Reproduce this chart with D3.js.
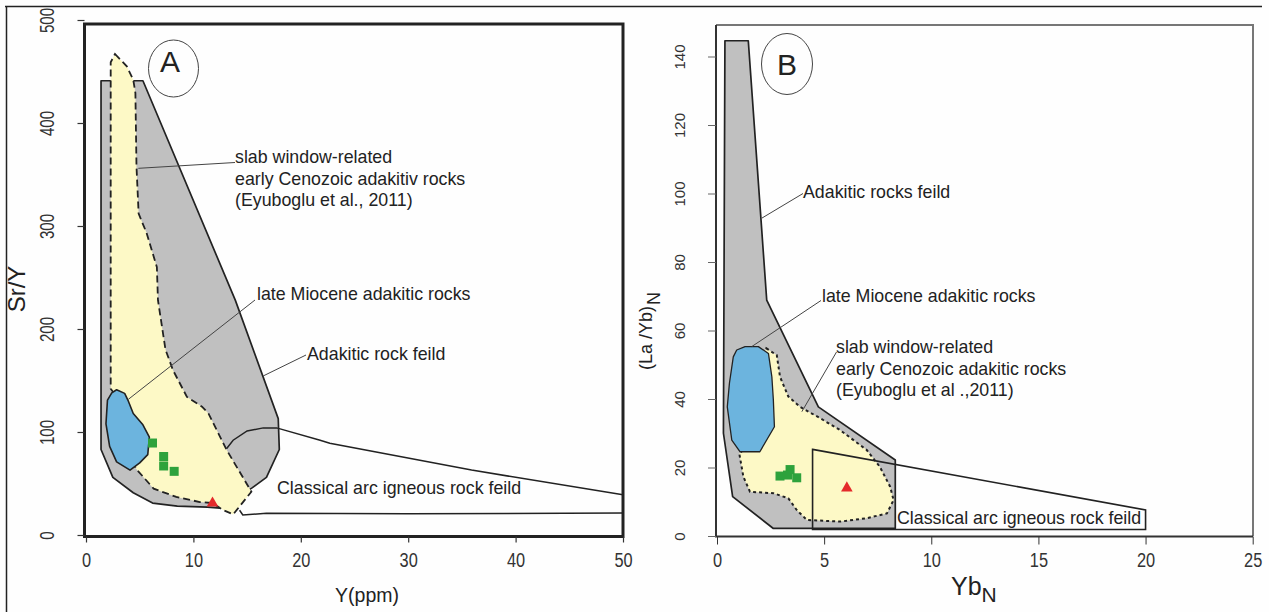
<!DOCTYPE html>
<html>
<head>
<meta charset="utf-8">
<script src="https://cdn.jsdelivr.net/npm/d3@7"></script>
<style>
  body { margin: 0; background: #ffffff; }
  svg { display: block; }
  text { font-family: "Liberation Sans", Arial, Helvetica, sans-serif; }
</style>
</head>
<body>
<svg id="fig" width="1269" height="612"></svg>
<script>
// ---------- Panel A: Sr/Y vs Y (ppm) ----------
const aXTicks = [0, 10, 20, 30, 40, 50];
const aYTicks = [0, 100, 200, 300, 400, 500];

// Adakitic rock field (grey)
const aAdakiticField = [
  [1.4, 441], [5.3, 441], [13.9, 228], [17.9, 113], [18.0, 83], [16.8, 56],
  [15.5, 46], [12.5, 26], [11.3, 27], [8.5, 28], [6.2, 31], [4.4, 41],
  [2.5, 56], [1.4, 83]
];
// Classical arc igneous rock field (outline only)
const aArcUpper = [
  [13.1, 84], [13.7, 92], [15.0, 101], [16.5, 104], [17.75, 104],
  [21.8, 92], [22.7, 89], [35.9, 63], [50, 39]
];
const aArcLower = [
  [14.3, 24], [14.6, 19.4], [16.8, 21], [30, 20.6], [50, 21.3]
];
// Slab window-related early Cenozoic adakitic rocks (dashed, yellow)
const aSlabField = [
  [2.7, 467], [3.8, 455], [4.4, 442], [4.6, 429], [4.7, 358], [4.9, 312],
  [5.65, 293], [6.6, 260], [6.7, 228], [7.4, 180], [8.1, 160], [9.4, 134],
  [10.8, 124.6], [11.4, 118], [13.1, 82.5], [15.4, 42], [13.7, 20],
  [12.8, 24], [11.8, 31], [10.6, 32], [8.4, 37], [6.3, 45], [4.6, 65],
  [4.2, 95], [3.0, 132], [2.3, 142], [2.3, 459]
];
// Late Miocene adakitic rocks (blue)
const aMioceneField = [
  [2.85, 141], [3.6, 137.5], [3.9, 131], [4.4, 118], [5.3, 107], [5.9, 95],
  [5.75, 78], [5.0, 70], [4.1, 63], [2.85, 71], [2.2, 86], [1.86, 108],
  [2.0, 131], [2.4, 138]
];
const aSamples = [[6.19, 89.3], [7.23, 76.2], [7.23, 67], [8.21, 61.8]];
const aTriangles = [[11.78, 31]];

// ---------- Panel B: (La/Yb)N vs YbN ----------
const bXTicks = [0, 5, 10, 15, 20, 25];
const bYTicks = [0, 20, 40, 60, 80, 100, 120, 140];

const bAdakiticField = [
  [0.37, 144.6], [1.46, 144.6], [2.32, 68.9], [4.73, 37.7], [8.32, 22.2],
  [8.32, 2.2], [2.63, 2.2], [0.73, 11.5], [0.3, 30]
];
const bSlabField = [
  [2.3, 54.8], [2.79, 52.8], [2.94, 46.5], [3.33, 40.7], [3.88, 37.7],
  [4.81, 34.4], [5.75, 30.9], [6.99, 25.1], [7.6, 20.2], [8.08, 14.4],
  [8.24, 10.5], [7.93, 6.6], [7.0, 5.2], [5.75, 4.2], [4.19, 4.7],
  [3.72, 7.6], [3.33, 11], [2.63, 12.5], [1.54, 12.9], [1.23, 17.3],
  [1.04, 24.1], [1.6, 27], [2.2, 31], [2.3, 45], [2.2, 53.5]
];
const bMioceneField = [
  [0.92, 54.3], [1.31, 55.3], [1.93, 55.3], [2.4, 53.3], [2.56, 46.5],
  [2.63, 39.7], [2.68, 31.9], [2.0, 24.6], [1.07, 24.6], [0.69, 28],
  [0.48, 37.7], [0.58, 44.6], [0.76, 52.3]
];
const bArcField = [[4.46, 25.3], [20, 7.6], [20, 1.9], [4.46, 1.9]];
const bSamples = [[2.94, 17.5], [3.41, 19.4], [3.29, 17.8], [3.72, 17.0]];
const bTriangles = [[6.06, 14.0]];

// label texts
const aSlabLabel = ["slab window-related", "early Cenozoic adakitiv rocks", "(Eyuboglu et al., 2011)"];
const bSlabLabel = ["slab window-related", "early Cenozoic adakitic rocks", "(Eyuboglu et al .,2011)"];
const mioceneLabel = "late Miocene adakitic rocks";
const arcLabel = "Classical arc igneous rock feild";

// ---------- styling ----------
const GREY = "#c0c0c0";
const YELLOW = "#fdf9c6";
const BLUE = "#6cb4de";
const GREEN = "#2ea23c";
const RED = "#e42a2a";
const INK = "#222";
const LABEL_FS = 17.8;

const svg = d3.select("#fig");
svg.append("rect").attr("width", 1269).attr("height", 612).attr("fill", "#fefefe");
// outer border of the figure
svg.append("path")
  .attr("d", "M5,6.5H1262M6.5,6V612")
  .attr("fill", "none").attr("stroke", INK).attr("stroke-width", 1.5);

function poly(line, pts) { return line(pts) + "Z"; }

function leader(g, x1, y1, x2, y2) {
  g.append("line").attr("x1", x1).attr("y1", y1).attr("x2", x2).attr("y2", y2)
    .attr("stroke", "#444").attr("stroke-width", 1);
}

function label(g, x, y, s) {
  g.append("text").attr("x", x).attr("y", y).attr("font-size", LABEL_FS)
    .attr("fill", INK).text(s);
}

function markers(g, xs, ys, squares, tris) {
  g.selectAll(null).data(squares).join("path")
    .attr("transform", d => `translate(${xs(d[0])},${ys(d[1])})`)
    .attr("d", d3.symbol(d3.symbolSquare, 81))
    .attr("fill", GREEN);
  g.selectAll(null).data(tris).join("path")
    .attr("transform", d => `translate(${xs(d[0])},${ys(d[1])})`)
    .attr("d", d3.symbol(d3.symbolTriangle, 58))
    .attr("fill", RED);
}

function panelTag(g, cx, cy, rx, ry, tx, ty, s) {
  g.append("ellipse").attr("cx", cx).attr("cy", cy).attr("rx", rx).attr("ry", ry)
    .attr("fill", "none").attr("stroke", "#444").attr("stroke-width", 1);
  g.append("text").attr("x", tx).attr("y", ty).attr("text-anchor", "middle")
    .attr("font-size", 30).attr("fill", INK).text(s);
}

// ---------- Panel A ----------
{
  const x = d3.scaleLinear().domain([0, 50]).range([86, 623]);
  const y = d3.scaleLinear().domain([0, 500]).range([535, 20]);
  const line = d3.line().x(d => x(d[0])).y(d => y(d[1]));
  const g = svg.append("g");

  g.append("path").attr("d", poly(line, aAdakiticField))
    .attr("fill", GREY).attr("stroke", INK).attr("stroke-width", 1.7).attr("stroke-linejoin", "round");
  g.append("path").attr("d", line(aArcUpper))
    .attr("fill", "none").attr("stroke", INK).attr("stroke-width", 1.5);
  g.append("path").attr("d", line(aArcLower))
    .attr("fill", "none").attr("stroke", INK).attr("stroke-width", 1.5);
  g.append("path").attr("d", poly(line, aSlabField))
    .attr("fill", YELLOW).attr("stroke", INK).attr("stroke-width", 1.8)
    .attr("stroke-dasharray", "7,4");
  g.append("path").attr("d", poly(line, aMioceneField))
    .attr("fill", BLUE).attr("stroke", INK).attr("stroke-width", 1.6).attr("stroke-linejoin", "round");

  markers(g, x, y, aSamples, aTriangles);

  // frame
  g.append("rect").attr("x", 84.5).attr("y", 24).attr("width", 623 - 84.5).attr("height", 536.5 - 24)
    .attr("fill", "none").attr("stroke", INK).attr("stroke-width", 3);

  // axes
  const ay = g.append("g").attr("transform", "translate(84.5,0)")
    .call(d3.axisLeft(y).tickValues(aYTicks).tickSize(7));
  ay.select(".domain").remove();
  ay.attr("color", "#333");
  ay.selectAll(".tick line").attr("stroke-width", 1.2);
  ay.selectAll(".tick text")
    .attr("x", 0).attr("y", -31).attr("dy", null)
    .attr("transform", "rotate(-90)").attr("text-anchor", "middle")
    .attr("font-size", 20.5).attr("font-family", null)
    .attr("textLength", d => String(d).length * 8.4).attr("lengthAdjust", "spacingAndGlyphs")
    .attr("fill", "#333");

  const ax = g.append("g").attr("transform", "translate(0,536.5)")
    .call(d3.axisBottom(x).tickValues(aXTicks).tickSize(6));
  ax.select(".domain").remove();
  ax.attr("color", "#333");
  ax.selectAll(".tick line").attr("stroke-width", 1.2);
  ax.selectAll(".tick text")
    .attr("y", 30).attr("dy", null)
    .attr("font-size", 20.5).attr("font-family", null)
    .attr("textLength", d => String(d).length * 9.1).attr("lengthAdjust", "spacingAndGlyphs")
    .attr("fill", "#333");

  // axis titles
  g.append("text").attr("transform", "translate(25,289) rotate(-90)")
    .attr("text-anchor", "middle").attr("font-size", 24).attr("fill", INK).text("Sr/Y");
  g.append("text").attr("x", 367).attr("y", 602).attr("text-anchor", "middle")
    .attr("font-size", 19.5).attr("fill", INK).text("Y(ppm)");

  panelTag(g, 173.5, 68.5, 25, 28.5, 170, 72, "A");

  // annotations
  leader(g, x(4.87), y(356), 235, 162.5);
  aSlabLabel.forEach((s, i) => label(g, 235, 163 + i * 21.7, s));
  leader(g, x(3.94), y(131.7), 255, 300);
  label(g, 257, 300, mioceneLabel);
  leader(g, x(16.5), y(154.4), 306, 355);
  label(g, 307, 360, "Adakitic rock feild");
  label(g, 277, 494, arcLabel);
}

// ---------- Panel B ----------
{
  const x = d3.scaleLinear().domain([0, 25]).range([717, 1252.7]);
  const y = d3.scaleLinear().domain([0, 140]).range([536, 56.5]);
  const line = d3.line().x(d => x(d[0])).y(d => y(d[1]));
  const g = svg.append("g");

  g.append("path").attr("d", poly(line, bAdakiticField))
    .attr("fill", GREY).attr("stroke", INK).attr("stroke-width", 1.7).attr("stroke-linejoin", "round");
  g.append("path").attr("d", poly(line, bSlabField))
    .attr("fill", YELLOW).attr("stroke", INK).attr("stroke-width", 2)
    .attr("stroke-dasharray", "3,3");
  g.append("path").attr("d", poly(line, bMioceneField))
    .attr("fill", BLUE).attr("stroke", INK).attr("stroke-width", 1.3).attr("stroke-linejoin", "round");
  g.append("path").attr("d", poly(line, bArcField))
    .attr("fill", "none").attr("stroke", INK).attr("stroke-width", 1.6);

  markers(g, x, y, bSamples, bTriangles);

  // frame: grey top / right, darker axes
  g.append("path").attr("d", "M716,25H1253V536")
    .attr("fill", "none").attr("stroke", "#777").attr("stroke-width", 2);
  g.append("path").attr("d", "M716,25V536.5H1253")
    .attr("fill", "none").attr("stroke", "#333").attr("stroke-width", 2);

  const ay = g.append("g").attr("transform", "translate(716,0)")
    .call(d3.axisLeft(y).tickValues(bYTicks).tickSize(8));
  ay.select(".domain").remove();
  ay.attr("color", "#666");
  ay.selectAll(".tick text")
    .attr("x", 0).attr("y", -31).attr("dy", null)
    .attr("transform", "rotate(-90)").attr("text-anchor", "middle")
    .attr("font-size", 15).attr("font-family", null).attr("fill", "#333");

  const ax = g.append("g").attr("transform", "translate(0,536.5)")
    .call(d3.axisBottom(x).tickValues(bXTicks).tickSize(8));
  ax.select(".domain").remove();
  ax.attr("color", "#333");
  ax.selectAll(".tick text")
    .attr("y", 30).attr("dy", null)
    .attr("font-size", 20).attr("font-family", null)
    .attr("textLength", d => String(d).length * 9.1).attr("lengthAdjust", "spacingAndGlyphs")
    .attr("fill", "#333");

  // axis titles
  const ty = g.append("text").attr("transform", "translate(652,370) rotate(-90)")
    .attr("font-size", 18).attr("fill", INK);
  ty.append("tspan").text("(La /Yb)");
  ty.append("tspan").attr("dy", 8).attr("dx", 1).text("N");

  const tx = g.append("text").attr("x", 951).attr("y", 595).attr("fill", INK);
  tx.append("tspan").attr("font-size", 25).text("Yb");
  tx.append("tspan").attr("font-size", 21).attr("dy", 7).text("N");

  panelTag(g, 787, 64, 25.5, 30.5, 787, 75, "B");

  // annotations
  leader(g, x(2.09), y(92.8), 803, 193.5);
  label(g, 803, 198, "Adakitic rocks feild");
  leader(g, x(1.62), y(55.3), 821, 300.5);
  label(g, 822, 302, mioceneLabel);
  leader(g, x(3.96), y(36.3), 836.5, 352);
  bSlabLabel.forEach((s, i) => label(g, 836, 353 + i * 21.7, s));
  label(g, 897, 524, arcLabel);
}
</script>
</body>
</html>
